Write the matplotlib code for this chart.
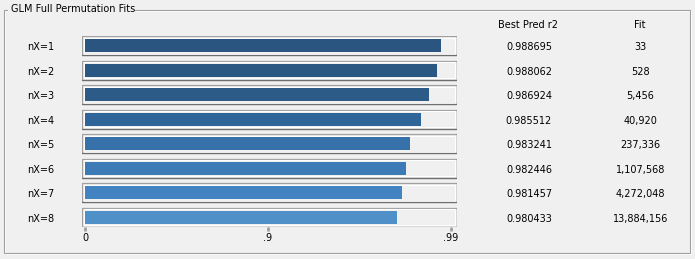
import numpy as np
import matplotlib
matplotlib.use("Agg")
import matplotlib.pyplot as plt
from matplotlib.patches import Rectangle
from matplotlib.transforms import blended_transform_factory

plt.rcParams['font.family'] = ['DejaVu Sans']

# ---- data ----
title = "GLM Full Permutation Fits"
labels = ["nX=1", "nX=2", "nX=3", "nX=4", "nX=5", "nX=6", "nX=7", "nX=8"]
best_pred_r2 = [0.988695, 0.988062, 0.986924, 0.985512, 0.983241, 0.982446, 0.981457, 0.980433]
fit_counts = [33, 528, 5456, 40920, 237336, 1107568, 4272048, 13884156]
col_headers = ["Best Pred r2", "Fit"]
tick_values = [0.0, 0.9, 0.99]
tick_labels = ["0", ".9", ".99"]
bar_colors = ["#2A5580", "#2B5883", "#2C5B88", "#2F6599", "#3771AA",
              "#3D7BB7", "#4383C1", "#5090C8"]

W, H = 695, 259
BG = "#F0F0F0"
FS = 7

def tr(r):
    # JMP "nines" scale: -log10(1 - r)
    return -np.log10(1.0 - np.asarray(r, dtype=float))

fig = plt.figure(figsize=(W / 100, H / 100), dpi=100, facecolor=BG)

# background axes in pixel coordinates for the group box
bg = fig.add_axes([0, 0, 1, 1], zorder=0)
bg.set_xlim(0, W)
bg.set_ylim(H, 0)
bg.axis("off")
bg.add_patch(Rectangle((3.5, 9.5), 686, 243.5, fill=False, ec="#A0A0A0", lw=0.8))
bg.add_patch(Rectangle((4.5, 10.5), 686, 243.5, fill=False, ec="white", lw=0.8, zorder=0.5))
bg.add_patch(Rectangle((8, 2), 127, 14, fc=BG, ec="none", zorder=1))
bg.text(11, 8.5, title, fontsize=FS, ha="left", va="center", color="black", zorder=2)

# main bar axes
ax_left, ax_right = 82, 457
ax_top, ax_bottom = 36, 226.5
ax = fig.add_axes([ax_left / W, (H - ax_bottom) / H, (ax_right - ax_left) / W,
                   (ax_bottom - ax_top) / H], zorder=1)
ax.set_facecolor("none")
for s in ax.spines.values():
    s.set_visible(False)

n = len(labels)
pitch = (ax_bottom - ax_top - 19) / (n - 1)  # px per row
half_box = 19 / 2 / pitch
ax.set_ylim(n - 1 + half_box, -half_box)
px_per_unit = 182.8
ax.set_xlim(-3 / px_per_unit, (ax_right - ax_left - 3) / px_per_unit)

y = np.arange(n)
bt = blended_transform_factory(ax.transAxes, ax.transData)
dx = 1 / (ax_right - ax_left)
dy = 1 / pitch
for i in range(n):
    # box: light top/left, dark bottom/right, white inner line
    ax.add_patch(Rectangle((0, i - half_box), 1, 2 * half_box, transform=bt,
                           fc=BG, ec="#A0A0A0", lw=0.9, zorder=1))
    ax.add_patch(Rectangle((1.5 * dx, i - half_box + 1.5 * dy), 1 - 3 * dx,
                           2 * half_box - 3 * dy, transform=bt,
                           fill=False, ec="white", lw=0.8, zorder=1.5))
    ax.plot([0, 1, 1], [i + half_box, i + half_box, i - half_box], transform=bt,
            color="#6E6E6E", lw=0.9, zorder=2, solid_capstyle="projecting")

ax.barh(y, tr(best_pred_r2), height=13 / pitch, color=bar_colors, zorder=3)

ax.set_xticks(tr(tick_values).tolist())
ax.set_xticklabels(tick_labels, fontsize=FS)
ax.tick_params(axis="x", length=3, width=2, color="#A0A0A0", pad=2, labelcolor="black")
ax.set_yticks([])

# row labels and table columns
ft = blended_transform_factory(fig.transFigure, ax.transData)
for i in range(n):
    fig.text(41 / W, i + 0.07, labels[i], transform=ft, fontsize=FS,
             ha="center", va="center")
    fig.text(529 / W, i + 0.07, f"{best_pred_r2[i]:.6f}", transform=ft, fontsize=FS,
             ha="center", va="center")
    fig.text(640.5 / W, i + 0.07, f"{fit_counts[i]:,}", transform=ft, fontsize=FS,
             ha="center", va="center")
fig.text(528 / W, -0.82, col_headers[0], transform=ft, fontsize=FS, ha="center", va="center")
fig.text(640 / W, -0.82, col_headers[1], transform=ft, fontsize=FS, ha="center", va="center")

fig.savefig("out.png", dpi=100, facecolor=BG)
